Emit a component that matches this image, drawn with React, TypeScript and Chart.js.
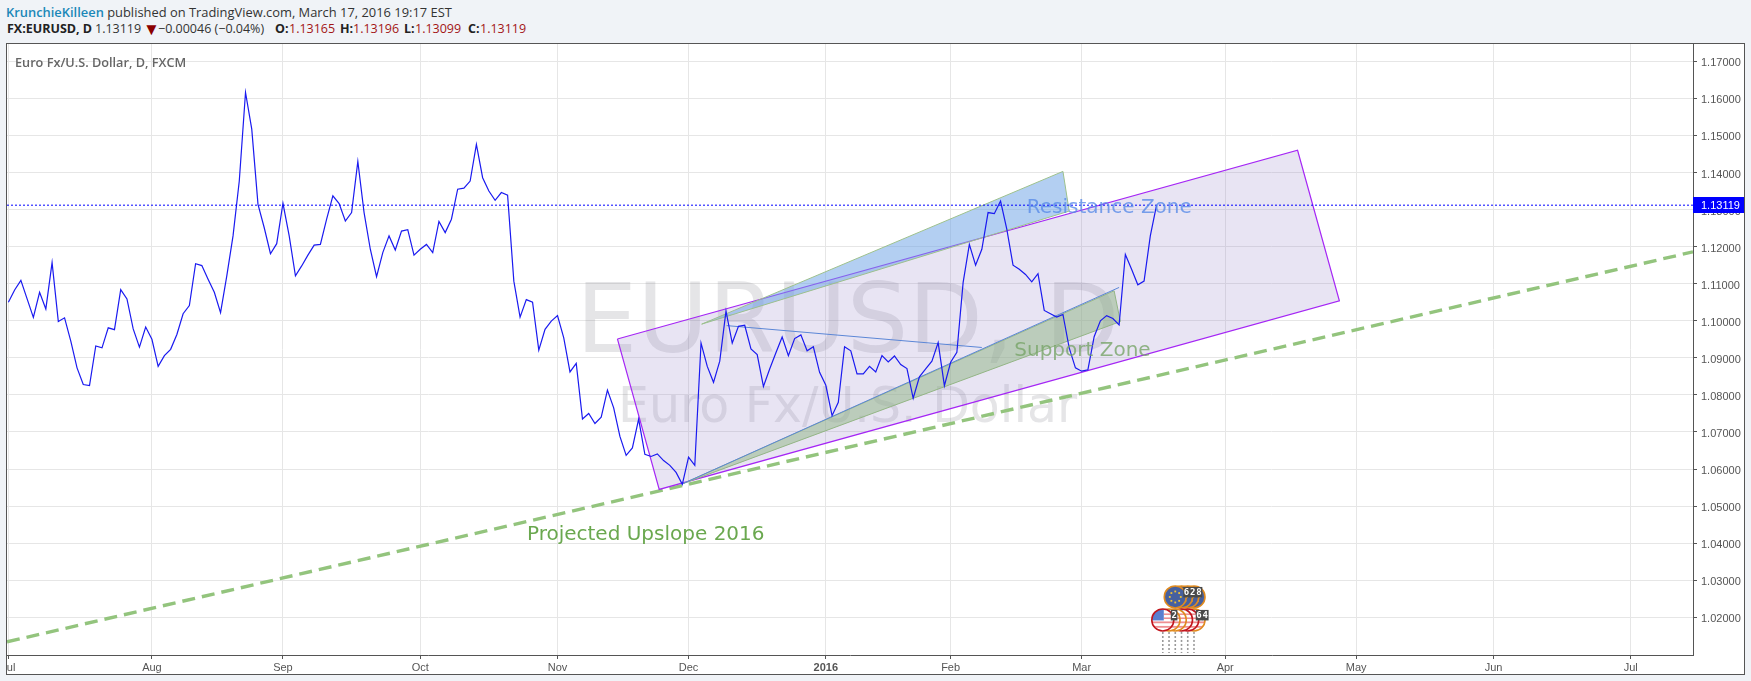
import React, { useEffect, useRef } from "react";
import { Chart, registerables } from "chart.js";

Chart.register(...registerables);

// ---- Series (daily closes) ----
const closes = [
  1.1050, 1.1083, 1.1109, 1.1059, 1.1009, 1.1077, 1.1032, 1.1157, 1.0998, 1.1008,
  1.0945, 1.0873, 1.0828, 1.0825, 1.0932, 1.0927, 1.0981, 1.0976, 1.1084, 1.1059,
  1.0978, 1.0929, 1.0983, 1.0950, 1.0877, 1.0906, 1.0923, 1.0963, 1.1019, 1.1041,
  1.1154, 1.1149, 1.1112, 1.1077, 1.1022, 1.1121, 1.1229, 1.1377, 1.1616, 1.1517,
  1.1314, 1.1251, 1.1181, 1.1208, 1.1317, 1.1229, 1.1121, 1.1148, 1.1177, 1.1204,
  1.1206, 1.1274, 1.1337, 1.1316, 1.1269, 1.1292, 1.1430, 1.1292, 1.1193, 1.1119,
  1.1184, 1.1229, 1.1191, 1.1242, 1.1246, 1.1177, 1.1193, 1.1206, 1.1184, 1.1268,
  1.1238, 1.1274, 1.1355, 1.1358, 1.1377, 1.1476, 1.1386, 1.1350, 1.1325, 1.1346,
  1.1339, 1.1107, 1.1010, 1.1057, 1.1050, 1.0921, 1.0977, 1.0999, 1.1014, 1.0954,
  1.0862, 1.0885, 1.0735, 1.0750, 1.0723, 1.0740, 1.0813, 1.0765, 1.0688, 1.0637,
  1.0657, 1.0735, 1.0640, 1.0634, 1.0641, 1.0623, 1.0610, 1.0591, 1.0559, 1.0632,
  1.0610, 1.0940, 1.0877, 1.0834, 1.0891, 1.1026, 1.0940, 1.0985, 1.0988, 1.0924,
  1.0909, 1.0823, 1.0870, 1.0914, 1.0956, 1.0906, 1.0952, 1.0962, 1.0919, 1.0930,
  1.0861, 1.0826, 1.0744, 1.0780, 1.0930, 1.0919, 1.0857, 1.0857, 1.0877, 1.0862,
  1.0906, 1.0889, 1.0905, 1.0882, 1.0871, 1.0791, 1.0849, 1.0870, 1.0891, 1.0941,
  1.0825, 1.0888, 1.0915, 1.1103, 1.1206, 1.1150, 1.1193, 1.1292, 1.1289, 1.1323,
  1.1247, 1.1150, 1.1139, 1.1125, 1.1105, 1.1127, 1.1028, 1.1019, 1.1010, 1.1017,
  1.0927, 1.0873, 1.0864, 1.0868, 1.0957, 1.1000, 1.1014, 1.1006, 1.0989, 1.1179,
  1.1139, 1.1097, 1.1107, 1.1229, 1.13119,
];

// ---- Axes ----
const monthBars = [0, 23, 44, 66, 88, 109, 131, 151, 172, 195, 216, 238, 260];
const monthLabels = ["Jul", "Aug", "Sep", "Oct", "Nov", "Dec", "2016", "Feb", "Mar", "Apr", "May", "Jun", "Jul"];
const priceTicks = [1.02, 1.03, 1.04, 1.05, 1.06, 1.07, 1.08, 1.09, 1.1, 1.11, 1.12, 1.13, 1.14, 1.15, 1.16, 1.17];
const barMin = -0.224;
const barMax = 269.97;
const priceMin = 1.00984;
const priceMax = 1.17467;
const lastPrice = 1.13119;

// ---- Drawings, as [bar, price] ----
const channel = [[97.6, 1.0951], [206.6, 1.146], [213.3, 1.1054], [104.3, 1.0545], [97.6, 1.0951]];
const resistanceZone = [[111.1, 1.0991], [169, 1.1403], [170, 1.1296], [111.1, 1.0991]];
const supportZone = [[108, 1.056], [177.2, 1.1081], [178.2, 1.0998], [108, 1.056]];
const supportLine = [[108, 1.056], [178, 1.109]];
const fallingLine = [[115.1, 1.0987], [156, 1.0928]];
const upslope = [[-0.224, 1.0134], [269.97, 1.1186]];
const priceLine = [[-0.224, lastPrice], [269.97, lastPrice]];

const textNotes = [
  { text: "Resistance Zone", bar: 163.2, price: 1.1306, color: "rgba(90,140,232,0.8)" },
  { text: "Support Zone", bar: 161.2, price: 1.0918, color: "rgba(120,165,105,0.8)" },
  { text: "Projected Upslope 2016", bar: 83.1, price: 1.0423, color: "#6aa84f" },
];

// ---- Event markers ----
const eventBars = [185, 186, 187, 188, 189, 190];
const upperEvents = [
  { bar: 190, kind: "eu", ring: "#e08a1e", count: "" },
  { bar: 189, kind: "eu", ring: "#e08a1e", count: "8" },
  { bar: 188, kind: "eu", ring: "#e08a1e", count: "2" },
  { bar: 187, kind: "eu", ring: "#e08a1e", count: "6" },
];
const lowerEvents = [
  { bar: 190, kind: "us", ring: "#e08a1e", count: "4" },
  { bar: 189, kind: "us", ring: "#c2151c", count: "6" },
  { bar: 188, kind: "us", ring: "#c2151c", count: "" },
  { bar: 187, kind: "us", ring: "#e08a1e", count: "" },
  { bar: 186, kind: "us", ring: "#e08a1e", count: "" },
  { bar: 185, kind: "us", ring: "#c2151c", count: "2" },
];
const upperEventPrice = 1.0255;
const lowerEventPrice = 1.0193;

// ---- Header line: text runs with their left edge ----
const headerRuns = [
  { x: 7, text: "FX:EURUSD, D", bold: true, color: "#222" },
  { x: 95, text: "1.13119", bold: false, color: "#333" },
  { x: 143, text: "▼", bold: false, color: "#8b0000" },
  { x: 158, text: "−0.00046 (−0.04%)", bold: false, color: "#333" },
  { x: 275, text: "O:", bold: true, color: "#222" },
  { x: 289, text: "1.13165", bold: false, color: "#a31515" },
  { x: 340, text: "H:", bold: true, color: "#222" },
  { x: 353, text: "1.13196", bold: false, color: "#a31515" },
  { x: 404, text: "L:", bold: true, color: "#222" },
  { x: 415, text: "1.13099", bold: false, color: "#a31515" },
  { x: 468, text: "C:", bold: true, color: "#222" },
  { x: 480, text: "1.13119", bold: false, color: "#a31515" },
];

const pts = (list: number[][]) => list.map(([x, y]) => ({ x, y }));

function drawEvent(ctx: CanvasRenderingContext2D, x: number, y: number, kind: string, ring: string) {
  const r = 11;
  ctx.save();
  ctx.beginPath();
  ctx.arc(x, y, r, 0, Math.PI * 2);
  ctx.fillStyle = "#fff";
  ctx.fill();
  ctx.clip();
  if (kind === "eu") {
    ctx.fillStyle = "#46609f";
    ctx.fillRect(x - r, y - r, 2 * r, 2 * r);
    ctx.fillStyle = "#f2c230";
    for (let k = 0; k < 8; k++) {
      const a = (k * Math.PI) / 4;
      ctx.fillRect(x + Math.cos(a) * 5.5 - 0.9, y + Math.sin(a) * 5.5 - 0.9, 1.8, 1.8);
    }
  } else {
    ctx.fillStyle = "#ee8f92";
    ctx.fillRect(x - r, y + 1.5, 2 * r, 1.8);
    ctx.fillRect(x - r, y + 6, 2 * r, 1.8);
    ctx.fillRect(x + 1, y - 6.5, r, 1.6);
    ctx.fillRect(x + 1, y - 2.5, r, 1.6);
    ctx.fillStyle = "#5a7fd0";
    ctx.fillRect(x - r, y - r, r + 1, r + 0.5);
  }
  ctx.restore();
  ctx.beginPath();
  ctx.arc(x, y, r, 0, Math.PI * 2);
  ctx.strokeStyle = ring;
  ctx.lineWidth = 1.6;
  ctx.stroke();
}

const overlayPlugin = {
  id: "overlay",
  beforeDatasetsDraw(chart: any) {
    const { ctx } = chart;
    const cx = chart.scales.x.getPixelForValue(134.5);
    ctx.save();
    ctx.textAlign = "center";
    ctx.textBaseline = "alphabetic";
    ctx.fillStyle = "rgba(110,110,120,0.18)";
    ctx.font = "97px 'DejaVu Sans'";
    ctx.fillText("EURUSD, D", cx, chart.scales.y.getPixelForValue(1.0917));
    ctx.font = "49px 'DejaVu Sans'";
    ctx.fillText("Euro Fx/U.S. Dollar", cx, chart.scales.y.getPixelForValue(1.0728));
    ctx.restore();
  },
  afterDatasetsDraw(chart: any) {
    const { ctx, chartArea: a, scales } = chart;
    const X = (v: number) => scales.x.getPixelForValue(v);
    const Y = (v: number) => scales.y.getPixelForValue(v);
    ctx.save();
    ctx.beginPath();
    ctx.rect(a.left, a.top, a.right - a.left, a.bottom - a.top);
    ctx.clip();
    // notes
    ctx.textAlign = "left";
    ctx.textBaseline = "middle";
    ctx.font = "20px 'DejaVu Sans'";
    for (const n of textNotes) {
      ctx.fillStyle = n.color;
      ctx.fillText(n.text, X(n.bar), Y(n.price));
    }
    // drop lines
    ctx.strokeStyle = "#9a9a9a";
    ctx.lineWidth = 1.6;
    ctx.setLineDash([2, 2]);
    for (const b of eventBars) {
      ctx.beginPath();
      ctx.moveTo(X(b), Y(lowerEventPrice) + 12);
      ctx.lineTo(X(b), a.bottom - 2);
      ctx.stroke();
    }
    ctx.setLineDash([]);
    // circles
    for (const e of upperEvents) drawEvent(ctx, X(e.bar), Y(upperEventPrice), e.kind, e.ring);
    for (const e of lowerEvents) drawEvent(ctx, X(e.bar), Y(lowerEventPrice), e.kind, e.ring);
    // counters
    ctx.font = "bold 9px 'DejaVu Sans Mono'";
    ctx.textAlign = "center";
    for (const [list, p] of [[upperEvents, upperEventPrice], [lowerEvents, lowerEventPrice]] as any) {
      for (const e of list) {
        if (!e.count) continue;
        const bx = X(e.bar) + 8;
        const by = Y(p) - 10;
        ctx.fillStyle = "#4a4a4a";
        ctx.fillRect(bx, by, 6.6, 10.5);
        ctx.fillStyle = "#fff";
        ctx.fillText(e.count, bx + 3.3, by + 5.5);
      }
    }
    ctx.restore();
  },
  afterDraw(chart: any) {
    const { ctx, chartArea: a, scales } = chart;
    const y = scales.y.getPixelForValue(lastPrice);
    ctx.save();
    ctx.fillStyle = "#0000ff";
    ctx.fillRect(a.right, Math.round(y) - 8, 51, 16);
    ctx.fillStyle = "#fff";
    ctx.font = "11px 'Liberation Sans'";
    ctx.textAlign = "left";
    ctx.textBaseline = "middle";
    ctx.fillText(lastPrice.toFixed(5), a.right + 8, Math.round(y) + 0.5);
    ctx.restore();
  },
};

export default function App() {
  const ref = useRef<HTMLCanvasElement | null>(null);
  useEffect(() => {
    document.body.style.margin = "0";
    const thin = { pointRadius: 0, tension: 0, fill: false };
    const chart = new Chart(ref.current as HTMLCanvasElement, {
      type: "line",
      data: {
        datasets: [
          { label: "Price line", data: pts(priceLine), borderColor: "#0000ff", borderWidth: 1, borderDash: [2, 2], ...thin },
          { label: "EURUSD", data: closes.map((y, x) => ({ x, y })), borderColor: "#1a1af0", borderWidth: 1.2, ...thin },
          { label: "Support line", data: pts(supportLine), borderColor: "#5b86d6", borderWidth: 1, ...thin },
          { label: "Falling line", data: pts(fallingLine), borderColor: "#5b86d6", borderWidth: 1, ...thin },
          { label: "Resistance zone", data: pts(resistanceZone), borderColor: "#9cc08c", borderWidth: 1, backgroundColor: "rgba(103,159,229,0.5)", pointRadius: 0, tension: 0, fill: "shape" },
          { label: "Support zone", data: pts(supportZone), borderColor: "#93b585", borderWidth: 1, backgroundColor: "rgba(142,179,131,0.5)", pointRadius: 0, tension: 0, fill: "shape" },
          { label: "Channel", data: pts(channel), borderColor: "#a526f5", borderWidth: 1.2, backgroundColor: "rgba(140,120,195,0.2)", pointRadius: 0, tension: 0, fill: "shape" },
          { label: "Upslope", data: pts(upslope), borderColor: "#93c47d", borderWidth: 3.4, borderDash: [13, 7], ...thin },
        ],
      },
      options: {
        animation: false,
        responsive: false,
        devicePixelRatio: 1,
        layout: { padding: 0 },
        plugins: { legend: { display: false }, tooltip: { enabled: false }, title: { display: false } },
        scales: {
          x: {
            type: "linear",
            min: barMin,
            max: barMax,
            afterBuildTicks: (s: any) => { s.ticks = monthBars.map((value) => ({ value })); },
            afterFit: (s: any) => { s.height = 19; s.paddingLeft = 0; s.paddingRight = 0; },
            grid: { color: "#e6e6e6", lineWidth: 1, tickColor: "#555", tickLength: 4 },
            border: { color: "#555", width: 1 },
            ticks: {
              autoSkip: false,
              maxRotation: 0,
              padding: 2,
              color: "#555",
              font: (c: any) => ({
                family: "'Liberation Sans'",
                size: 11,
                weight: monthLabels[monthBars.indexOf(c.tick?.value)] === "2016" ? "bold" : "normal",
              }),
              callback: (v: any) => monthLabels[monthBars.indexOf(v)],
            },
          },
          y: {
            type: "linear",
            position: "right",
            min: priceMin,
            max: priceMax,
            afterBuildTicks: (s: any) => { s.ticks = priceTicks.map((value) => ({ value })); },
            afterFit: (s: any) => { s.width = 51; s.paddingTop = 0; s.paddingBottom = 0; },
            grid: { color: "#e6e6e6", lineWidth: 1, tickColor: "#555", tickLength: 4 },
            border: { color: "#555", width: 1 },
            ticks: {
              autoSkip: false,
              padding: 4,
              labelOffset: 2,
              color: "#555",
              font: { family: "'Liberation Sans'", size: 11 },
              callback: (v: any) => Number(v).toFixed(5),
            },
          },
        },
      } as any,
      plugins: [overlayPlugin as any],
    } as any);
    return () => chart.destroy();
  }, []);

  const head: React.CSSProperties = {
    position: "absolute",
    fontFamily: "'Open Sans'",
    fontSize: 12.9,
    whiteSpace: "nowrap",
    lineHeight: "16px",
  };
  return (
    <div style={{ position: "absolute", left: 0, top: 0, width: 1751, height: 681, background: "#f0f3f7", overflow: "hidden" }}>
      <div style={{ ...head, left: 6, top: 4, color: "#333" }}>
        <span style={{ color: "#1b88b8", fontWeight: 600 }}>KrunchieKilleen</span> published on TradingView.com, March 17, 2016 19:17 EST
      </div>
      {headerRuns.map((r, i) => (
        <div key={i} style={{ ...head, left: r.x, top: 21, color: r.color, fontWeight: r.bold ? 700 : 400, fontSize: r.text === "▼" ? 17 : 12.5 }}>
          {r.text}
        </div>
      ))}
      <div style={{ position: "absolute", left: 6, top: 43, width: 1737, height: 630, border: "1px solid #555", background: "#fff" }}>
        <canvas ref={ref} width={1737} height={630} style={{ display: "block" }} />
        <div style={{ position: "absolute", left: 8, top: 9, fontFamily: "'Open Sans'", fontWeight: 600, fontSize: 12.7, color: "#666", whiteSpace: "nowrap" }}>
          Euro Fx/U.S. Dollar, D, FXCM
        </div>
      </div>
    </div>
  );
}
